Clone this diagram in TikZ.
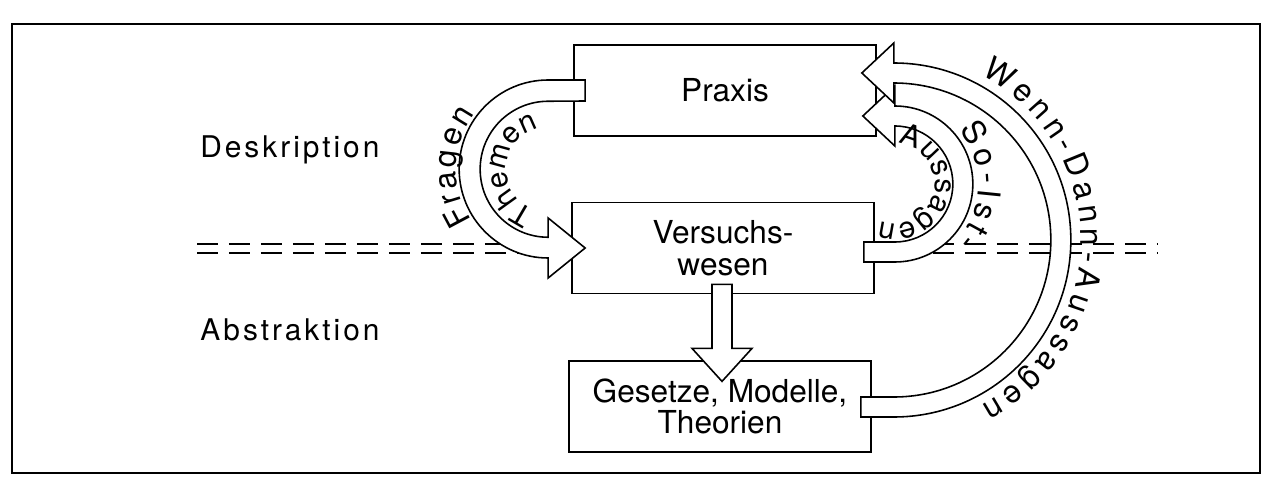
\documentclass[tikz,border=0pt]{standalone}
\usepackage{fontspec}
\setmainfont{TeX Gyre Heros}
\newfontfamily\weit[LetterSpace=10]{TeX Gyre Heros}
\usetikzlibrary{calc,decorations.text}
\newcommand\bogen{\fontsize{18}{18}\selectfont}
\newcommand\innen{\fontsize{17}{17}\selectfont}
\tikzset{
  kasten/.style={draw, line width=1pt, fill=white, minimum width=6.04cm,
    minimum height=1.82cm, align=center, font=\fontsize{18}{18}\selectfont},
  pfeil/.style={draw, line width=0.9pt, fill=white, line join=miter},
  trenn/.style={line width=0.8pt, dash pattern=on 0.42cm off 0.22cm},
  seite/.style={anchor=base west, inner sep=0pt, font=\weit\fontsize{17}{17}\selectfont},
  bogentext/.style={decorate, decoration={text along path, text={#1}, text align={fit to path}}}
}
\begin{document}
\begin{tikzpicture}[x=0.02cm, y=0.02cm]
\useasboundingbox (0,0) rectangle (1265,484);
\draw[line width=1.1pt] (12,11) rectangle (1260,460); % Rahmen
\draw[trenn] (197,240) -- (1158,240); % Trennlinie
\draw[trenn] (197,231) -- (1158,231);
\node[seite] (deskr) at (200,326) {Deskription};
\node[seite] (abstr) at (200,144) {Abstraktion};
\node[kasten] (praxis) at (725,393.5) {Praxis};
\node[kasten] (versuch) at (723,236) {Versuchs-\\wesen};
\node[kasten] (gesetze) at (720,77.5) {Gesetze, Modelle,\\Theorien};
\coordinate (fz) at ($(praxis.west)!0.5!(versuch.west)+(-24,0)$);
\coordinate (au) at ($(versuch.east)+(20,64)$);
\coordinate (wd) at ($(gesetze.east)+(22,166.5)$);
% Versuchswesen -> Gesetze
\draw[pfeil] ($(versuch.south)+(-11,10)$) -- ++(0,-64) -- ++(-20,0) -- ++(30,-33)
  -- ++(30,33) -- ++(-20,0) -- ++(0,64) -- cycle;
% Praxis -> Versuchswesen
\draw[pfeil] ($(praxis.west)+(12,10.5)$) coordinate (f1) -- (f1 -| fz)
  arc[start angle=90, end angle=270, radius=89]
  -- ($(versuch.west -| fz)+(0,-30)$) -- ($(versuch.west)+(14,0)$)
  -- ($(versuch.west -| fz)+(0,30)$) -- ($(fz)+(0,-68)$)
  arc[start angle=270, end angle=90, radius=68]
  -- ($(praxis.west)+(12,-10.5)$) -- cycle;
% Versuchswesen -> Praxis
\draw[pfeil] ($(versuch.east)+(-11,-14)$) coordinate (a1) -- (a1 -| au)
  arc[start angle=-90, end angle=90, radius=78]
  -- ++(0,20) -- ++(-32,-30) -- ++(32,-30) -- ++(0,20)
  arc[start angle=90, end angle=-90, radius=58]
  -- ($(versuch.east)+(-11,6)$) -- cycle;
% Gesetze -> Praxis
\draw[pfeil] ($(gesetze.east)+(-11,-10.5)$) coordinate (w1) -- (w1 -| wd)
  arc[start angle=-90, end angle=90, radius=177]
  -- ++(0,20) -- ++(-32,-30) -- ++(32,-30) -- ++(0,20)
  arc[start angle=90, end angle=-90, radius=157]
  -- ($(gesetze.east)+(-11,9.5)$) -- cycle;
% Beschriftung der Bogen
\path[bogentext={|\bogen|Fragen}] ($(fz)+(214:92)$) arc[start angle=214, end angle=143, radius=92];
\path[bogentext={|\innen|Themen}] ($(fz)+(252:42)$) arc[start angle=252, end angle=104, radius=42];
\path[bogentext={|\innen|Aussagen}] ($(au)+(85:40)$) arc[start angle=85, end angle=-112, radius=40];
\path[bogentext={|\bogen|So-Ist-}] ($(au)+(40:84)$) arc[start angle=40, end angle=-42, radius=84];
\path[bogentext={|\bogen|Wenn-Dann-Aussagen}] ($(wd)+(62:187)$) arc[start angle=62, end angle=-62, radius=187];
\end{tikzpicture}
\end{document}
